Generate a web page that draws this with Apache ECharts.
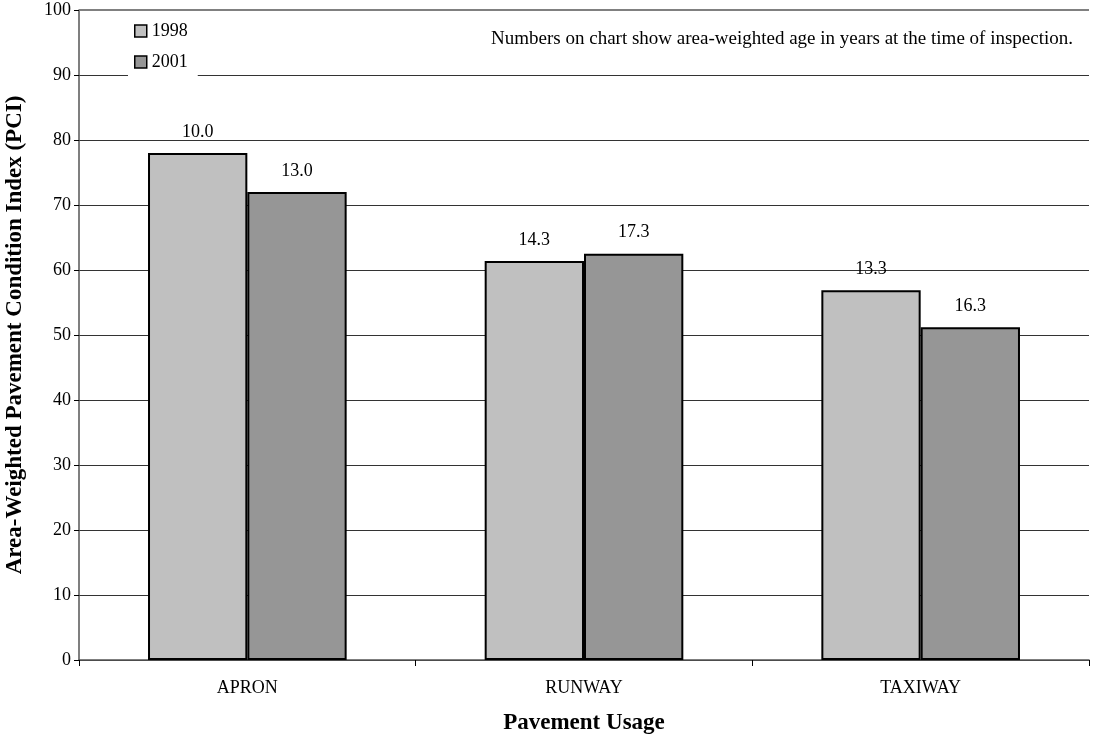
<!DOCTYPE html>
<html>
<head>
<meta charset="utf-8">
<script src="https://cdn.jsdelivr.net/npm/echarts@6/dist/echarts.min.js"></script>
<style>html,body{margin:0;padding:0;background:#fff}#c{width:1099px;height:738px}</style>
</head>
<body>
<div id="c"></div>
<script>
const categories = ['APRON', 'RUNWAY', 'TAXIWAY'];
const pci1998 = [78.0, 61.4, 56.9];
const pci2001 = [72.0, 62.5, 51.2];
const age1998 = ['10.0', '14.3', '13.3'];
const age2001 = ['13.0', '17.3', '16.3'];
const seriesNames = ['1998', '2001'];

const font = 'Liberation Serif';
const chart = echarts.init(document.getElementById('c'));
const labelStyle = (ages) => ({
  show: true, position: 'top', distance: 12,
  fontFamily: font, fontSize: 18, color: '#000',
  formatter: p => ages[p.dataIndex]
});
chart.setOption({
  animation: false,
  textStyle: { fontFamily: font },
  title: {
    text: 'Numbers on chart show area-weighted age in years at the time of inspection.',
    right: 21, top: 25,
    textStyle: { fontFamily: font, fontSize: 19, fontWeight: 'normal', color: '#000' }
  },
  legend: {
    orient: 'vertical', left: 128, top: 14,
    icon: 'rect',
    itemWidth: 12, itemHeight: 12, itemGap: 13,
    backgroundColor: '#fff', padding: [8, 10, 8, 6],
    itemStyle: { borderColor: '#000', borderWidth: 1.5 },
    textStyle: { fontFamily: font, fontSize: 18, color: '#000' },
    data: seriesNames
  },
  grid: { left: 79, right: 10, top: 10, bottom: 78, containLabel: false, outerBoundsMode: 'none' },
  xAxis: {
    type: 'category', data: categories,
    name: 'Pavement Usage', nameLocation: 'middle', nameGap: 52,
    nameTextStyle: { fontFamily: font, fontSize: 23, fontWeight: 'bold', color: '#000' },
    axisLine: { lineStyle: { color: '#555', width: 1.5 } },
    axisTick: { show: true, length: 6, lineStyle: { color: '#000' } },
    axisLabel: { fontFamily: font, fontSize: 18, color: '#000', margin: 19 }
  },
  yAxis: {
    type: 'value', min: 0, max: 100, interval: 10,
    name: 'Area-Weighted Pavement Condition Index (PCI)', nameLocation: 'middle', nameGap: 52,
    nameTextStyle: { fontFamily: font, fontSize: 23, fontWeight: 'bold', color: '#000' },
    axisLine: { show: true, lineStyle: { color: '#555', width: 1.5 } },
    axisTick: { show: true, length: 5, lineStyle: { color: '#000' } },
    axisLabel: { fontFamily: font, fontSize: 18, color: '#000', margin: 8 },
    splitLine: { lineStyle: { color: '#333', width: 1 } }
  },
  series: [
    {
      name: seriesNames[0], type: 'bar', data: pci1998,
      barGap: '0%', barCategoryGap: '41%',
      itemStyle: { color: '#c0c0c0', borderColor: '#000', borderWidth: 2 },
      label: labelStyle(age1998)
    },
    {
      name: seriesNames[1], type: 'bar', data: pci2001,
      itemStyle: { color: '#969696', borderColor: '#000', borderWidth: 2 },
      label: labelStyle(age2001)
    }
  ],
  graphic: [{
    type: 'line', z: 100,
    shape: { x1: 79, y1: 10, x2: 1089, y2: 10 },
    style: { stroke: '#808080', lineWidth: 2 }
  }]
});
</script>
</body>
</html>
